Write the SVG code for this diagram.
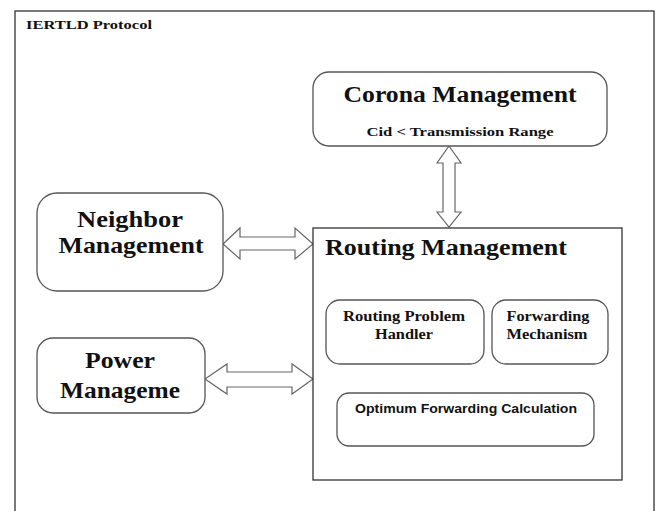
<svg xmlns="http://www.w3.org/2000/svg" width="661" height="511" viewBox="0 0 661 511">
<style>
.frame{fill:#fff;stroke:#222;stroke-width:1.2}
.rbox{fill:#fff;stroke:#555;stroke-width:1.3}
.sq{fill:#fff;stroke:#333;stroke-width:1.3}
.arrow{fill:#fff;stroke:#666;stroke-width:1.2;stroke-linejoin:miter}
.big{font-family:"Liberation Serif","Times New Roman",serif;font-weight:bold;font-size:23px;fill:#111}
.med{font-family:"Liberation Serif","Times New Roman",serif;font-weight:bold;font-size:14px;fill:#111}
.sm{font-family:"Liberation Serif","Times New Roman",serif;font-weight:bold;font-size:13px;fill:#111}
.sans{font-family:"Liberation Sans",Arial,sans-serif;font-weight:bold;font-size:12.5px;fill:#111}
</style>
<rect x="0" y="0" width="661" height="511" fill="#fff"/>
<g id="frame">
<rect class="frame" x="15" y="11" width="639" height="530"/>
<text class="sm" x="26" y="29" textLength="126" lengthAdjust="spacingAndGlyphs">IERTLD Protocol</text>
</g>
<g id="connectors">
<polygon class="arrow" points="223,244 240,228 240,237 295,237 295,228 313,244 295,259 295,250 240,250 240,259"/>
<polygon class="arrow" points="205,379 227,364 227,372 292,372 292,364 313,379 292,394 292,387 227,387 227,394"/>
<polygon class="arrow" points="449,146 461,163 455,163 455,212 461,212 449,227 437,212 443,212 443,163 437,163"/>
</g>
<g id="corona">
<rect class="rbox" x="313" y="72" width="294" height="74" rx="16"/>
<text class="big" x="460" y="102" text-anchor="middle" textLength="233" lengthAdjust="spacingAndGlyphs">Corona Management</text>
<text class="sm" x="460" y="136" text-anchor="middle" textLength="187" lengthAdjust="spacingAndGlyphs">Cid &lt; Transmission Range</text>
</g>
<g id="neighbor">
<rect class="rbox" x="37" y="193" width="186" height="98" rx="20"/>
<text class="big" x="130" y="227" text-anchor="middle" textLength="106" lengthAdjust="spacingAndGlyphs">Neighbor</text>
<text class="big" x="131" y="253" text-anchor="middle" textLength="145" lengthAdjust="spacingAndGlyphs">Management</text>
</g>
<g id="power">
<rect class="rbox" x="37" y="338" width="168" height="75" rx="16"/>
<text class="big" x="120" y="368" text-anchor="middle" textLength="70" lengthAdjust="spacingAndGlyphs">Power</text>
<text class="big" x="120" y="398" text-anchor="middle" textLength="120" lengthAdjust="spacingAndGlyphs">Manageme</text>
</g>
<g id="routing">
<rect class="sq" x="313" y="228" width="309" height="252"/>
<text class="big" x="325" y="255" textLength="242" lengthAdjust="spacingAndGlyphs">Routing Management</text>
</g>
<g id="problem-handler">
<rect class="rbox" x="326" y="300" width="158" height="64" rx="14"/>
<text class="med" x="404" y="321" text-anchor="middle" textLength="122" lengthAdjust="spacingAndGlyphs">Routing Problem</text>
<text class="med" x="404" y="339" text-anchor="middle" textLength="58" lengthAdjust="spacingAndGlyphs">Handler</text>
</g>
<g id="forwarding-mechanism">
<rect class="rbox" x="492" y="300" width="116" height="64" rx="14"/>
<text class="med" x="548" y="321" text-anchor="middle" textLength="83" lengthAdjust="spacingAndGlyphs">Forwarding</text>
<text class="med" x="547" y="339" text-anchor="middle" textLength="81" lengthAdjust="spacingAndGlyphs">Mechanism</text>
</g>
<g id="optimum">
<rect class="rbox" x="337" y="393" width="257" height="53" rx="12"/>
<text class="sans" x="466" y="413" text-anchor="middle" textLength="222" lengthAdjust="spacingAndGlyphs">Optimum Forwarding Calculation</text>
</g>
</svg>
